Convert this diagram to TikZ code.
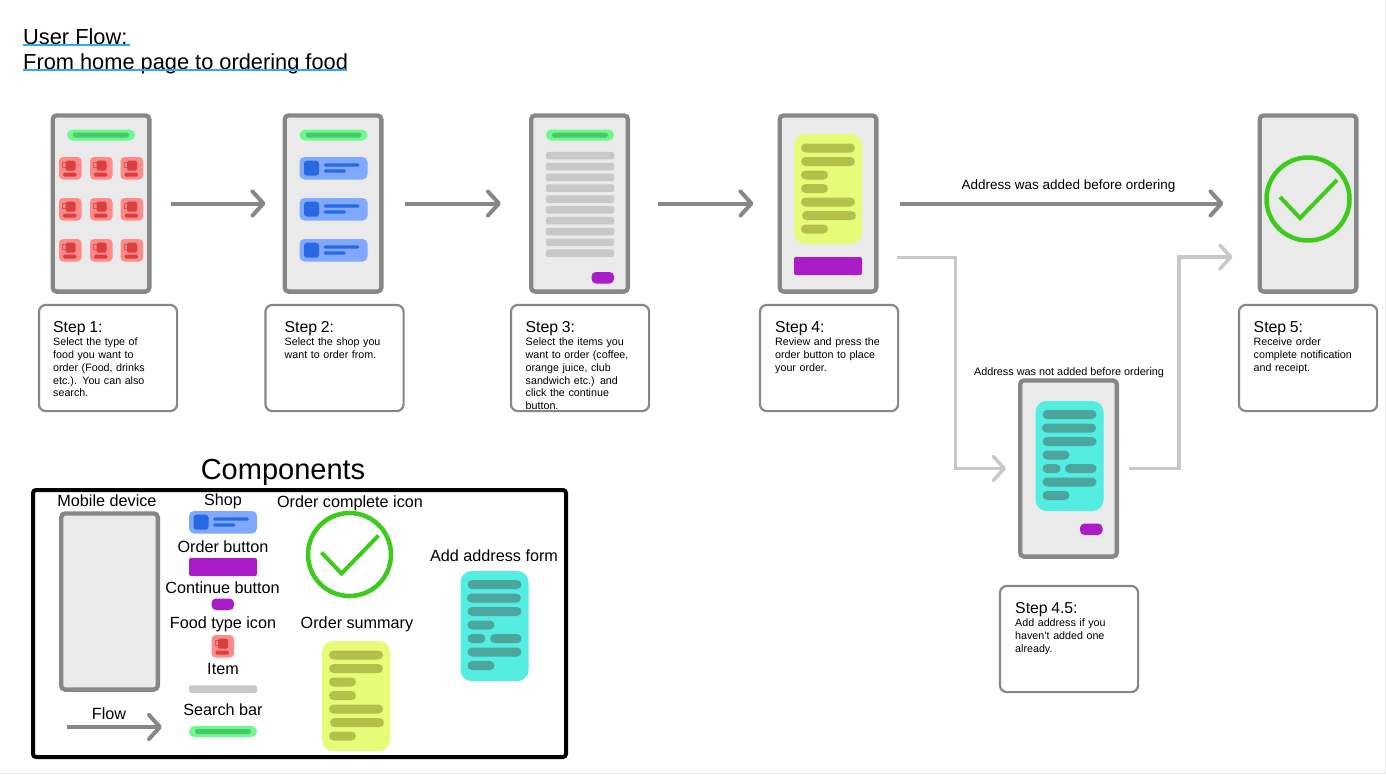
\documentclass[tikz,border=0pt]{standalone}
\usepackage{fontspec}
\setmainfont{Liberation Sans}
\usetikzlibrary{arrows.meta}
\definecolor{edge}{HTML}{878787}
\definecolor{screen}{HTML}{EAEAEA}
\definecolor{pale}{HTML}{C9C7C7}
\definecolor{grn}{HTML}{6CF98D}
\definecolor{grnd}{HTML}{48C96A}
\definecolor{redl}{HTML}{FF8A8A}
\definecolor{redd}{HTML}{D93F3F}
\definecolor{blul}{HTML}{7FA9FF}
\definecolor{blud}{HTML}{2769E3}
\definecolor{purp}{HTML}{A91CC7}
\definecolor{yell}{HTML}{E6FB78}
\definecolor{yeld}{HTML}{B4C04C}
\definecolor{teal1}{HTML}{53EDE2}
\definecolor{teal2}{HTML}{4DA69D}
\definecolor{okg}{HTML}{3CCB1A}
\definecolor{ul}{HTML}{2FA9F5}
\tikzset{
 x=1pt,y=-1pt,
 phone/.style={draw=edge,fill=screen,line width=4.3pt,rounded corners=4pt,minimum width=96.7pt,minimum height=176.2pt,inner sep=0pt},
 cardbox/.style={draw=edge,fill=white,line width=2.2pt,rounded corners=7pt,minimum width=138.2pt,minimum height=106.2pt,inner sep=0pt},
 flow/.style={draw=edge,line width=4pt,-{Straight Barb[length=11pt,width=24pt,round]}},
 flowpale/.style={draw=pale,line width=3.5pt,-{Straight Barb[length=11pt,width=24pt,round]}},
 heading/.style={anchor=base,inner sep=0pt},
 lab/.style={anchor=base,font=\fontsize{16.2}{16.2}\selectfont,inner sep=0pt},
 steptxt/.style={anchor=north west,align=left,inner sep=0pt,text width=118pt,font=\fontsize{10.7}{12.7}\selectfont},
}
\newcommand{\pill}[5]{\fill[#5,rounded corners=#4*0.5] (#1,#3-#4*0.5) rectangle (#2,#3+#4*0.5);}
\newcommand{\rbar}[6]{\fill[#5,rounded corners=#6] (#1,#3-#4*0.5) rectangle (#2,#3+#4*0.5);}
\newcommand{\searchbar}[2]{\pill{#1}{#1+68}{#2}{11}{grn}\pill{#1+6}{#1+62}{#2}{5}{grnd}}
\newcommand{\foodicon}[2]{\begin{scope}[shift={(#1,#2)}]
 \fill[redl,rounded corners=4pt] (0,0) rectangle (22.5,22.5);
 \draw[redd,line width=.7pt,opacity=.75] (3.5,5.5) rectangle (8,10);
 \fill[redd,rounded corners=1.5pt] (6.5,3.7) rectangle (16.5,13.7);
 \fill[redd,rounded corners=1.5pt] (4,15.7) rectangle (17.5,19.7);
 \end{scope}}
\newcommand{\shopcard}[2]{\begin{scope}[shift={(#1,#2)}]
 \fill[blul,rounded corners=5pt] (0,0) rectangle (68,22.5);
 \fill[blud,rounded corners=3pt] (4.5,3.7) rectangle (19.5,18.7);
 \pill{24}{60}{8}{3.2}{blud}\pill{24}{46.5}{14}{3.2}{blud}
 \end{scope}}
\newcommand{\summaryform}[2]{\begin{scope}[shift={(#1,#2)}]
 \fill[yell,rounded corners=11pt] (0,0) rectangle (68,110);
 \pill{7}{61}{14}{9}{yeld}\pill{7}{61}{27.5}{9}{yeld}\pill{7}{34}{41}{9}{yeld}\pill{7}{34}{54.5}{9}{yeld}
 \pill{7}{61}{68}{9}{yeld}\pill{8}{62}{81.5}{9}{yeld}\pill{7}{34}{95}{9}{yeld}
 \end{scope}}
\newcommand{\addressform}[2]{\begin{scope}[shift={(#1,#2)}]
 \fill[teal1,rounded corners=11pt] (0,0) rectangle (68,110);
 \pill{7}{61}{13.5}{9}{teal2}\pill{6.5}{60.5}{27}{9}{teal2}\pill{7}{61}{40.5}{9}{teal2}\pill{7}{34}{54}{9}{teal2}
 \pill{7}{25}{67.5}{9}{teal2}\pill{29.5}{61}{67.5}{9}{teal2}\pill{7}{61}{81}{9}{teal2}\pill{7}{34}{94.5}{9}{teal2}
 \end{scope}}
\newcommand{\contbtn}[2]{\fill[purp,rounded corners=4.5pt] (#1,#2) rectangle (#1+22.5,#2+11.5);}
\newcommand{\orderbtn}[2]{\fill[purp,rounded corners=2pt] (#1,#2) rectangle (#1+68,#2+18);}
\newcommand{\okicon}[2]{\draw[okg,line width=4.5pt] (#1,#2) circle (41.5);
 \draw[okg,line width=4pt,line join=miter] (#1-28,#2-2) -- (#1-8,#2+19) -- (#1+29,#2-19);}
\begin{document}
\begin{tikzpicture}
\useasboundingbox (0,0) rectangle (1386,774);
\fill[white] (0,0) rectangle (1386,774);
\draw[screen,line width=1pt] (0,773.5) -- (1386,773.5) (1385.5,0) -- (1385.5,774);
% title
\node[anchor=base west,inner sep=0pt,font=\fontsize{21.8}{21.8}\selectfont] (t1) at (23,44) {User Flow:};
\node[anchor=base west,inner sep=0pt,font=\fontsize{21.8}{21.8}\selectfont] (t2) at (23,69) {From home page to ordering food};
\fill[ul] (23,43.5) rectangle (130,45.5);
\fill[ul] (23,68.5) rectangle (347,70.5);
% phones
\node[phone] (p1) at (101,203.5) {};
\node[phone] (p2) at (333,203.5) {};
\node[phone] (p3) at (579.5,203.5) {};
\node[phone] (p4) at (828,203.5) {};
\node[phone] (p5) at (1308,203.5) {};
\node[phone] (p45) at (1068.5,468.5) {};
% phone 1
\searchbar{67}{135}
\foreach \yy in {157,198,239}\foreach \xx in {59,90,120.5}{\foodicon{\xx}{\yy}}
% phone 2
\searchbar{299.5}{135}
\foreach \yy in {157,198,239}{\shopcard{299.5}{\yy}}
% phone 3
\searchbar{546}{135}
\foreach \yy in {155.7,166.5,177.3,188.2,199,209.8,220.7,231.5,242.3,253.2}{\rbar{546}{614}{\yy}{7.5}{pale}{2pt}}
\contbtn{591.5}{272}
% phone 4
\summaryform{794}{134}
\orderbtn{794}{257}
% phone 5
\okicon{1308}{199}
% phone 4.5
\addressform{1035.5}{401}
\contbtn{1080}{523.5}
% step boxes
\node[cardbox] (s1) at (108,358) {};
\node[cardbox] (s2) at (334.5,358) {};
\node[cardbox] (s3) at (580,358) {};
\node[cardbox] (s4) at (829,358) {};
\node[cardbox] (s5) at (1308,358) {};
\node[cardbox] (s45) at (1069,639) {};
\newcommand{\steptext}[4]{\node[steptxt] at (#1,#2) {{\fontsize{15.8}{17}\selectfont #3\par}\vspace{1pt}#4};}
\steptext{53}{321}{Step 1:}{Select the type of\\food you want to\\order (Food, drinks\\etc.). You can also\\search.}
\steptext{284.5}{321}{Step 2:}{Select the shop you\\want to order from.}
\steptext{525.5}{321}{Step 3:}{Select the items you\\want to order (coffee,\\orange juice, club\\sandwich etc.) and\\click the continue\\button.}
\steptext{775}{321}{Step 4:}{Review and press the\\order button to place\\your order.}
\steptext{1253.5}{321}{Step 5:}{Receive order\\complete notification\\and receipt.}
\steptext{1015}{602}{Step 4.5:}{Add address if you\\haven't added one\\already.}
% connectors
\draw[flow] ([xshift=19pt]p1.east) -- ([xshift=-17pt]p2.west);
\draw[flow] ([xshift=21pt]p2.east) -- ([xshift=-28pt]p3.west);
\draw[flow] ([xshift=28pt]p3.east) -- ([xshift=-24pt]p4.west);
\draw[flow] ([xshift=21pt]p4.east) -- ([xshift=-34pt]p5.west);
\coordinate (f1) at ([xshift=18pt,yshift=-54pt]p4.east);
\coordinate (f2) at ([xshift=-12pt]p45.west);
\draw[flowpale] (f1) -- (955.5,257.5) -- (955.5,468.5) -- (f2);
\coordinate (f3) at ([xshift=10pt]p45.east);
\coordinate (f4) at ([xshift=-25pt,yshift=-53.5pt]p5.west);
\draw[flowpale] (f3) -- (1179,468.5) -- (1179,257) -- (f4);
\node[heading,font=\fontsize{13.5}{13.5}\selectfont] (l1) at (1068.5,189) {Address was added before ordering};
\node[heading,font=\fontsize{10.85}{10.85}\selectfont] (l2) at (1069,375) {Address was not added before ordering};
% components
\node[anchor=base,inner sep=0pt,font=\fontsize{29}{29}\selectfont] (c0) at (283,479) {Components};
\draw[black,line width=4pt,rounded corners=3pt] (33,490) rectangle (566,757);
\node[lab] at (107,506) {Mobile device};
\node[phone] (pc) at (109.5,601.5) {};
\node[lab] at (223,505) {Shop};
\shopcard{189}{511}
\node[lab] at (223,552) {Order button};
\orderbtn{189}{558}
\node[lab] at (222.5,593) {Continue button};
\contbtn{211.5}{598.5}
\node[lab] at (223,628) {Food type icon};
\foodicon{211.5}{635}
\node[lab] at (223,674) {Item};
\rbar{189}{257}{689}{7.5}{pale}{2pt}
\node[lab] at (223,715) {Search bar};
\searchbar{189}{731.5}
\node[lab] (fl) at (109,719) {Flow};
\coordinate (fa) at (67,727);
\coordinate (fb) at (162,727);
\draw[flow] (fa) -- (fb);
\node[lab] at (350,507) {Order complete icon};
\okicon{349.5}{554.5}
\node[lab] at (357,628) {Order summary};
\summaryform{322}{641}
\node[lab] at (494,561) {Add address form};
\addressform{460.5}{571}
\end{tikzpicture}
\end{document}
